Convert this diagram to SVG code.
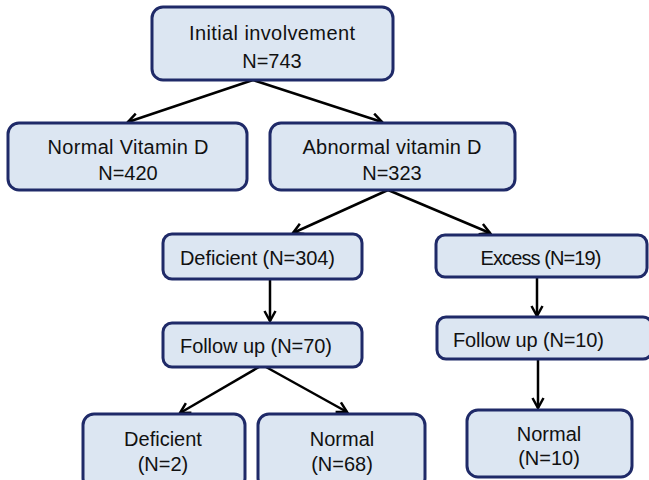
<svg xmlns="http://www.w3.org/2000/svg" width="649" height="480" viewBox="0 0 649 480">
<defs>
<style>
.box{fill:#dce6f2;stroke:#1f2a68;stroke-width:3}
.t{font-family:"Liberation Sans",Arial,sans-serif;font-size:20px;fill:#111}
.c{text-anchor:middle}
.conn line{stroke:#000;stroke-width:2.5;marker-end:url(#ah)}
</style>
<marker id="ah" viewBox="0 0 14 14" refX="12" refY="7" markerWidth="14" markerHeight="14" markerUnits="userSpaceOnUse" orient="auto">
<path d="M2,1.5 L12,7 L2,12.5" fill="none" stroke="#000" stroke-width="2.5"/>
</marker>
</defs>
<rect width="649" height="480" fill="#fff"/>
<g id="connectors" class="conn">
<line x1="253" y1="80" x2="128" y2="122"/>
<line x1="253" y1="80" x2="382" y2="122"/>
<line x1="388" y1="190" x2="293" y2="233"/>
<line x1="388" y1="190" x2="490" y2="233"/>
<line x1="270" y1="280" x2="270" y2="321"/>
<line x1="537" y1="277" x2="537" y2="316"/>
<line x1="259" y1="367" x2="180" y2="413"/>
<line x1="266" y1="367" x2="347" y2="412"/>
<line x1="538" y1="359" x2="538" y2="408"/>
</g>
<g id="initial">
<rect class="box" x="152" y="7" width="241" height="73" rx="11"/>
<text class="t c" x="272" y="40" textLength="166">Initial involvement</text>
<text class="t c" x="272" y="68">N=743</text>
</g>
<g id="normal-vitd">
<rect class="box" x="8" y="123" width="239" height="67" rx="11"/>
<text class="t c" x="128" y="154" textLength="161">Normal Vitamin D</text>
<text class="t c" x="128" y="180">N=420</text>
</g>
<g id="abnormal-vitd">
<rect class="box" x="270" y="123" width="245" height="67" rx="11"/>
<text class="t c" x="392" y="154" textLength="179">Abnormal vitamin D</text>
<text class="t c" x="392" y="180">N=323</text>
</g>
<g id="deficient-304">
<rect class="box" x="163" y="234" width="199" height="45" rx="9"/>
<text class="t" x="180" y="265" textLength="155">Deficient (N=304)</text>
</g>
<g id="excess-19">
<rect class="box" x="436" y="235" width="211" height="42" rx="9"/>
<text class="t c" x="541" y="265" textLength="121">Excess (N=19)</text>
</g>
<g id="followup-70">
<rect class="box" x="163" y="323" width="199" height="44" rx="9"/>
<text class="t" x="180" y="353" textLength="152">Follow up (N=70)</text>
</g>
<g id="followup-10">
<rect class="box" x="437" y="317" width="215" height="42" rx="9"/>
<text class="t" x="453" y="347" textLength="151">Follow up (N=10)</text>
</g>
<g id="deficient-2">
<rect class="box" x="83" y="414" width="162" height="75" rx="11"/>
<text class="t c" x="163" y="446">Deficient</text>
<text class="t c" x="163" y="471">(N=2)</text>
</g>
<g id="normal-68">
<rect class="box" x="258" y="414" width="167" height="75" rx="11"/>
<text class="t c" x="342" y="446">Normal</text>
<text class="t c" x="342" y="471">(N=68)</text>
</g>
<g id="normal-10">
<rect class="box" x="467" y="410" width="165" height="67" rx="11"/>
<text class="t c" x="549" y="441">Normal</text>
<text class="t c" x="549" y="465">(N=10)</text>
</g>
</svg>
